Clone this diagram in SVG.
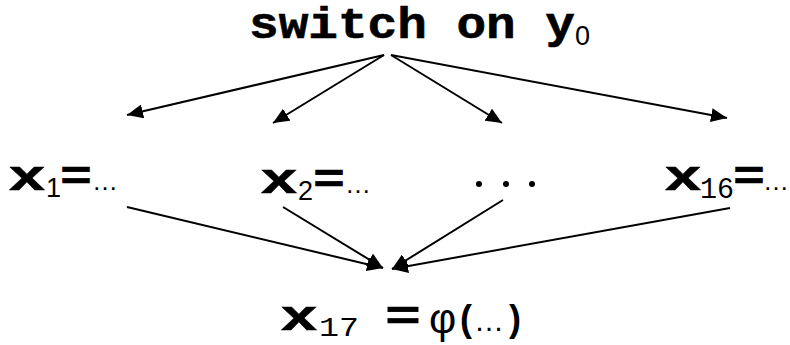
<svg xmlns="http://www.w3.org/2000/svg" width="790" height="345" viewBox="0 0 790 345">
<style>
.m{font-family:"Liberation Mono","Courier New",monospace;font-weight:bold;fill:#000;stroke:#000;stroke-width:0.6}
.n{font-family:"Liberation Mono","Courier New",monospace;fill:#000}
.s{font-family:"Liberation Sans",Arial,sans-serif;fill:#000}
.c line{stroke:#000;stroke-width:2;fill:none;marker-end:url(#ah)}
</style>
<defs>
<marker id="ah" markerUnits="userSpaceOnUse" markerWidth="18" markerHeight="14" refX="16" refY="7" orient="auto">
<path d="M0,0 L16,7 L0,14 z" fill="#000"/>
</marker>
</defs>
<rect width="790" height="345" fill="#fff"/>
<g id="n-switch">
<text class="m" x="249" y="38" font-size="44" textLength="326" lengthAdjust="spacingAndGlyphs">switch on y</text>
<text class="s" x="575" y="45" font-size="27">0</text>
</g>
<g id="n-x1">
<text class="m" x="8" y="190" font-size="42" textLength="38" lengthAdjust="spacingAndGlyphs">x</text>
<text class="s" x="46" y="197" font-size="27">1</text>
<text class="m" x="60" y="190" font-size="42" textLength="32" lengthAdjust="spacingAndGlyphs">=</text>
<text class="s" x="92" y="190" font-size="26">…</text>
</g>
<g id="n-x2">
<text class="m" x="260" y="193" font-size="42" textLength="38" lengthAdjust="spacingAndGlyphs">x</text>
<text class="s" x="298" y="200" font-size="27">2</text>
<text class="m" x="313" y="193" font-size="42" textLength="32" lengthAdjust="spacingAndGlyphs">=</text>
<text class="s" x="345" y="193" font-size="26">…</text>
</g>
<g id="n-dots">
<circle cx="479" cy="184" r="3"/>
<circle cx="506" cy="184" r="3"/>
<circle cx="532" cy="184" r="3"/>
</g>
<g id="n-x16">
<text class="m" x="664" y="190" font-size="42" textLength="38" lengthAdjust="spacingAndGlyphs">x</text>
<text class="n" x="700" y="198" font-size="30" textLength="34" lengthAdjust="spacingAndGlyphs">16</text>
<text class="m" x="733" y="190" font-size="42" textLength="32" lengthAdjust="spacingAndGlyphs">=</text>
<text class="s" x="763" y="190" font-size="26">…</text>
</g>
<g id="n-x17">
<text class="m" x="280" y="330" font-size="42" textLength="38" lengthAdjust="spacingAndGlyphs">x</text>
<text class="n" x="319" y="336" font-size="28" textLength="40" lengthAdjust="spacingAndGlyphs">17</text>
<text class="m" x="385" y="330" font-size="42" textLength="36" lengthAdjust="spacingAndGlyphs">=</text>
<text class="s" x="429" y="333" font-size="42">φ</text>
<text class="s" x="460" y="331" font-size="36" font-weight="bold">(</text>
<text class="s" x="474" y="331" font-size="30">…</text>
<text class="s" x="509" y="331" font-size="36" font-weight="bold">)</text>
</g>
<g id="connectors" class="c">
<line x1="384" y1="55" x2="127" y2="115"/>
<line x1="384" y1="55" x2="273" y2="123"/>
<line x1="391" y1="55" x2="502" y2="123"/>
<line x1="391" y1="55" x2="727" y2="118"/>
<line x1="127" y1="207" x2="383" y2="268"/>
<line x1="283" y1="207" x2="383" y2="268"/>
<line x1="503" y1="200" x2="392" y2="269"/>
<line x1="730" y1="208" x2="392" y2="269"/>
</g>
</svg>
